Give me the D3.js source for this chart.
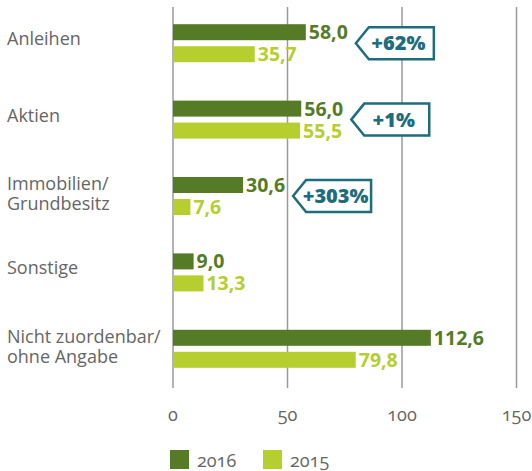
<!DOCTYPE html>
<html><head><meta charset="utf-8">
<script src="https://cdn.jsdelivr.net/npm/d3@7"></script>
<style>
html,body{margin:0;padding:0;background:#fff;}
svg{display:block;font-family:"Open Sans",sans-serif;}
</style></head>
<body>
<script>
const categories = [["Anleihen"],["Aktien"],["Immobilien/","Grundbesitz"],["Sonstige"],["Nicht zuordenbar/","ohne Angabe"]];
const values2016 = [58.0, 56.0, 30.6, 9.0, 112.6];
const values2015 = [35.7, 55.5, 7.6, 13.3, 79.8];
const seriesNames = ["2016", "2015"];
const changes = [{cat:0, text:"+62%"},{cat:1, text:"+1%"},{cat:2, text:"+303%"}];
const tickValues = [0, 50, 100, 150];

const W = 532, H = 471;
const dark = "#557b27", light = "#b6ce2e", teal = "#1e6d7d", grey = "#666666", gridC = "#9a9a9a";

const svg = d3.select("body").append("svg").attr("width", W).attr("height", H);

const x = d3.scaleLinear().domain([0,150]).range([173, 516.5]);
const idx = d3.range(categories.length);
const y0 = d3.scaleBand().domain(idx).range([5, 387]);
const y1 = d3.scaleBand().domain(seriesNames).range([-19, 19]).paddingInner(6/22);
const colors = {"2016": dark, "2015": light};
const fmt = v => d3.format(".1f")(v).replace(".", ",");

// grid
svg.append("g").selectAll("line").data(tickValues).join("line")
  .attr("x1", d => x(d)).attr("x2", d => x(d))
  .attr("y1", 7).attr("y2", 388)
  .attr("stroke", gridC).attr("stroke-width", 1.5);

// tick labels
svg.append("g").selectAll("text").data(tickValues).join("text")
  .attr("x", d => x(d)).attr("y", 421)
  .attr("text-anchor", "middle")
  .style("font-size", "18px").style("fill", grey)
  .style("font-variant-numeric", "oldstyle-nums")
  .text(d => d);

// category labels
const cl = svg.append("g").selectAll("text").data(idx).join("text")
  .attr("x", 7)
  .attr("y", i => {
    const c = y0(i) + y0.bandwidth()/2;
    return categories[i].length > 1 ? c - 6 : c + 2;
  })
  .style("font-size", "18px").style("fill", grey);
cl.each(function(i){
  const t = d3.select(this);
  categories[i].forEach((line, k) => {
    t.append("tspan").attr("x", 7).attr("dy", k === 0 ? 0 : 20).text(line);
  });
});

// bars
const rows = [];
idx.forEach(i => {
  rows.push({i, s:"2016", v: values2016[i]});
  rows.push({i, s:"2015", v: values2015[i]});
});
const center = i => y0(i) + y0.bandwidth()/2;
svg.append("g").selectAll("rect").data(rows).join("rect")
  .attr("x", x(0))
  .attr("y", d => center(d.i) + y1(d.s))
  .attr("width", d => x(d.v) - x(0))
  .attr("height", y1.bandwidth())
  .attr("fill", d => colors[d.s]);

// value labels
const labelEnds = {};
svg.append("g").selectAll("text").data(rows).join("text")
  .attr("x", d => x(d.v) + 3)
  .attr("y", d => center(d.i) + y1(d.s) + y1.bandwidth() - 1)
  .style("font-size", "19.5px").style("font-weight", "700")
  .style("fill", d => colors[d.s])
  .text(d => fmt(d.v))
  .each(function(d){
    if (d.s === "2016") labelEnds[d.i] = x(d.v) + 3 + this.getComputedTextLength();
  });

// callouts
const cg = svg.append("g").selectAll("g").data(changes).join("g");
cg.each(function(d){
  const g = d3.select(this);
  const cy = center(d.cat);
  const x0 = labelEnds[d.cat] + 8;
  const xR = x0 + 78, h = 16, notch = 13;
  g.append("path")
    .attr("d", `M${x0},${cy} L${x0+notch},${cy-h} L${xR},${cy-h} L${xR},${cy+h} L${x0+notch},${cy+h} Z`)
    .attr("fill", "#fff").attr("stroke", teal).attr("stroke-width", 2.5)
    .attr("stroke-linejoin", "miter");
  g.append("text")
    .attr("x", (x0 + notch + xR)/2 - 3).attr("y", cy + 7)
    .attr("text-anchor", "middle")
    .style("font-size", "20px").style("font-weight", "800").style("fill", teal)
    .text(d.text);
});

// legend
const lg = svg.append("g").selectAll("g").data(seriesNames).join("g")
  .attr("transform", (d, k) => `translate(${170 + k*93},450)`);
lg.append("rect").attr("width", 19).attr("height", 19).attr("fill", d => colors[d]);
lg.append("text").attr("x", 27).attr("y", 17)
  .style("font-size", "18px").style("fill", grey)
  .style("font-variant-numeric", "oldstyle-nums")
  .text(d => d);
</script>
</body></html>
